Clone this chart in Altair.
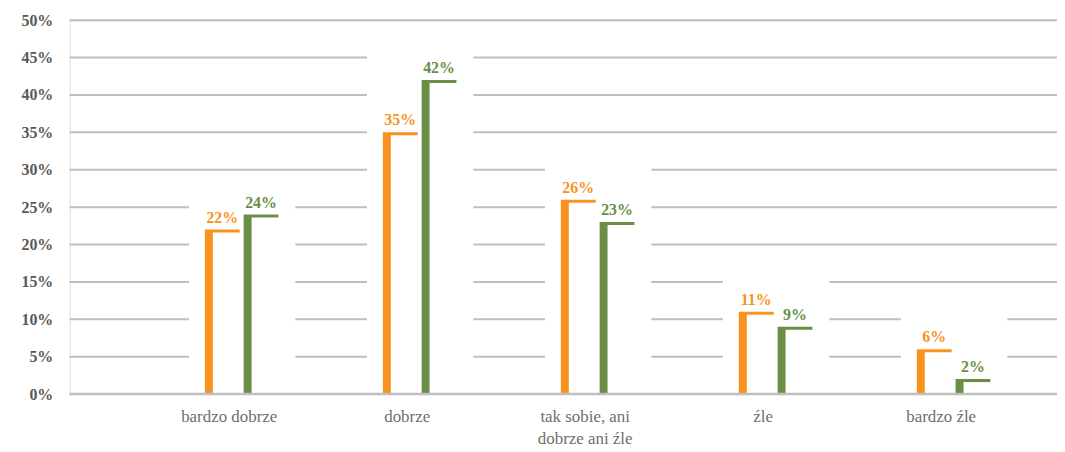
import altair as alt
import pandas as pd

categories = ["bardzo dobrze", "dobrze", "tak sobie, ani\ndobrze ani źle", "źle", "bardzo źle"]
series = ["seria 1", "seria 2"]
values_s1 = [22, 35, 26, 11, 6]
values_s2 = [24, 42, 23, 9, 2]
y_ticks = [0, 5, 10, 15, 20, 25, 30, 35, 40, 45, 50]

colors = {"seria 1": "#F7931E", "seria 2": "#6B8E46"}
# pixel offsets (style) of each series' shape relative to the group center
bar_off = {"seria 1": -20, "seria 2": 19}
inner_off = {"seria 1": -15.5, "seria 2": 23.5}

rows = []
for c, a, b in zip(categories, values_s1, values_s2):
    rows.append({"category": c, "series": series[0], "value": a})
    rows.append({"category": c, "series": series[1], "value": b})
df = pd.DataFrame(rows)
ticks_df = pd.DataFrame({"tick": y_ticks})

serif = "Liberation Serif"

x_scale = alt.Scale(domain=categories, range=[84, 979], paddingInner=0, paddingOuter=0)
y_scale = alt.Scale(domain=[0, 50], nice=False)

x_axis = alt.Axis(
    title=None, domain=False, ticks=False, grid=False, labelAngle=0,
    labelFont=serif, labelFontSize=17, labelColor="#6E6E6E",
    labelPadding=15, labelOffset=-13, labelLineHeight=22,
    labelExpr="split(datum.value, '\\n')", labelOverlap=False,
)
y_axis = alt.Axis(
    title=None, domain=False, ticks=False, tickSize=0, values=y_ticks,
    labelExpr="datum.value + '%'", labelFont=serif, labelFontSize=16,
    labelFontWeight="bold", labelColor="#595959", labelPadding=17,
    grid=False,
)

base = alt.Chart(df)

# horizontal gridlines across the whole plot width
grid = alt.Chart(ticks_df).mark_rule(color="#BFBFBF", strokeWidth=2).encode(
    y=alt.Y("tick:Q", scale=y_scale, axis=y_axis)
)

# white backdrop per category (hides gridlines behind each group)
backdrop = base.transform_aggregate(
    maxv="max(value)", groupby=["category"]
).transform_calculate(
    top="datum.maxv + 5"
).mark_bar(color="white", width=107).encode(
    x=alt.X("category:N", scale=x_scale, axis=x_axis, sort=categories),
    y=alt.Y("top:Q", scale=y_scale, axis=y_axis),
)

baseline = alt.Chart(ticks_df).transform_filter(alt.datum.tick == 0).mark_rule(
    color="#BFBFBF", strokeWidth=2.5
).encode(
    y=alt.Y("tick:Q", scale=y_scale, axis=y_axis)
)

layers = [grid, backdrop]
for s in series:
    sub = base.transform_filter(alt.datum.series == s)
    colored = sub.mark_bar(color=colors[s], width=35, xOffset=bar_off[s]).encode(
        x=alt.X("category:N", scale=x_scale, axis=x_axis, sort=categories),
        y=alt.Y("value:Q", scale=y_scale, axis=y_axis),
    )
    inner = sub.mark_bar(color="white", width=28, xOffset=inner_off[s], yOffset=3).encode(
        x=alt.X("category:N", scale=x_scale, axis=x_axis, sort=categories),
        y=alt.Y("value:Q", scale=y_scale, axis=y_axis),
    )
    label = sub.mark_text(
        color=colors[s], font=serif, fontSize=16, fontWeight="bold",
        xOffset=bar_off[s], dy=-7, baseline="alphabetic", align="center",
    ).encode(
        x=alt.X("category:N", scale=x_scale, axis=x_axis, sort=categories),
        y=alt.Y("value:Q", scale=y_scale, axis=y_axis),
        text=alt.Text("label:N"),
    ).transform_calculate(label="datum.value + '%'")
    layers += [colored, inner, label]
layers.append(baseline)

chart = alt.layer(*layers).properties(
    width=993, height=376,
    autosize=alt.AutoSizeParams(type="none"),
    padding={"left": 62, "top": 11, "right": 0, "bottom": 60},
).configure_view(stroke=None, strokeWidth=0).configure(background="white")

chart.save("out.html", embed_options={"renderer": "svg", "actions": False})
